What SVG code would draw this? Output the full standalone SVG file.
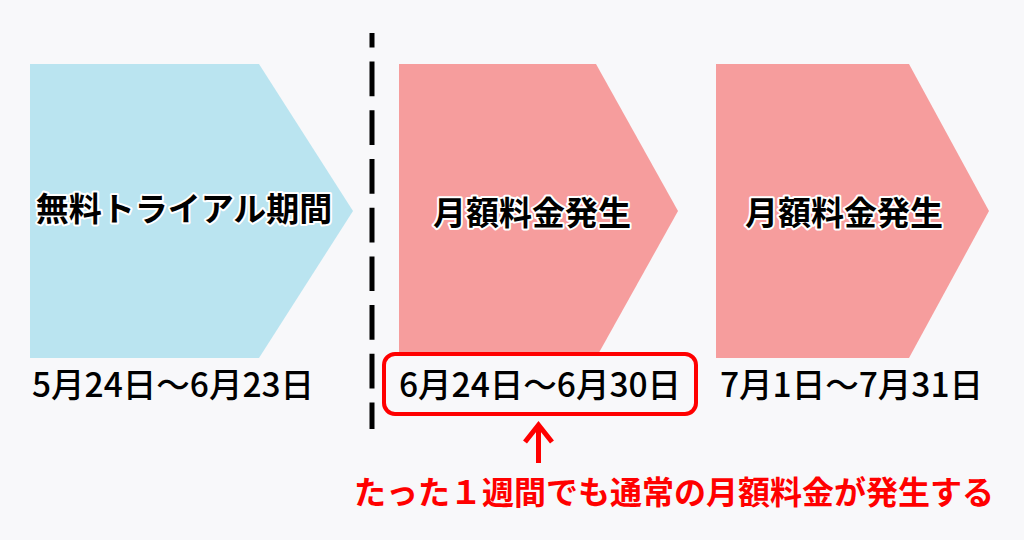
<svg xmlns="http://www.w3.org/2000/svg" width="1024" height="540" viewBox="0 0 1024 540">
  <style>
    .lbl { font-family: "Noto Sans CJK JP", "Noto Sans", sans-serif; font-weight: 700; font-size: 33px; fill: #000; stroke: #fff; stroke-width: 4px; stroke-linejoin: round; paint-order: stroke; text-anchor: middle; }
    .date { font-family: "Noto Sans CJK JP", "Noto Sans", sans-serif; font-weight: 500; font-size: 33.5px; fill: #000; }
    .note { font-family: "Noto Sans CJK JP", "Noto Sans", sans-serif; font-weight: 700; font-size: 32px; fill: #ff0000; text-anchor: middle; }
  </style>
  <rect x="0" y="0" width="1024" height="540" fill="#f8f8fa"/>

  <g id="trial">
    <polygon points="30,64 259,64 353,211 259,358 30,358" fill="#bae4f0"/>
    <text class="lbl" x="184" y="221">無料トライアル期間</text>
    <text class="date" x="32" y="397">5月24日～6月23日</text>
  </g>

  <g id="month1">
    <polygon points="399,64 596,64 678,211 596,358 399,358" fill="#f69d9d"/>
    <text class="lbl" x="532" y="225">月額料金発生</text>
  </g>

  <g id="month2">
    <polygon points="716,64 909,64 989,211 909,358 716,358" fill="#f69d9d"/>
    <text class="lbl" x="844" y="225">月額料金発生</text>
    <text class="date" x="720" y="397">7月1日～7月31日</text>
  </g>

  <g id="highlight">
    <rect x="384" y="354" width="312" height="60" rx="11" ry="11" fill="#f8f8fa" stroke="#ff0000" stroke-width="4"/>
    <text class="date" x="399" y="397">6月24日～6月30日</text>
  </g>

  <g id="connectors">
    <line x1="372" y1="33" x2="372" y2="429" stroke="#000" stroke-width="5" stroke-dasharray="34.7 14" stroke-dashoffset="20.1"/>
    <path d="M538.5,426 V463" stroke="#ff0000" stroke-width="5" fill="none"/>
    <path d="M525,442 L538.5,425 L552,442" stroke="#ff0000" stroke-width="5" fill="none" stroke-linejoin="miter"/>
  </g>

  <g id="note">
    <text class="note" x="674" y="504">たった１週間でも通常の月額料金が発生する</text>
  </g>
</svg>
